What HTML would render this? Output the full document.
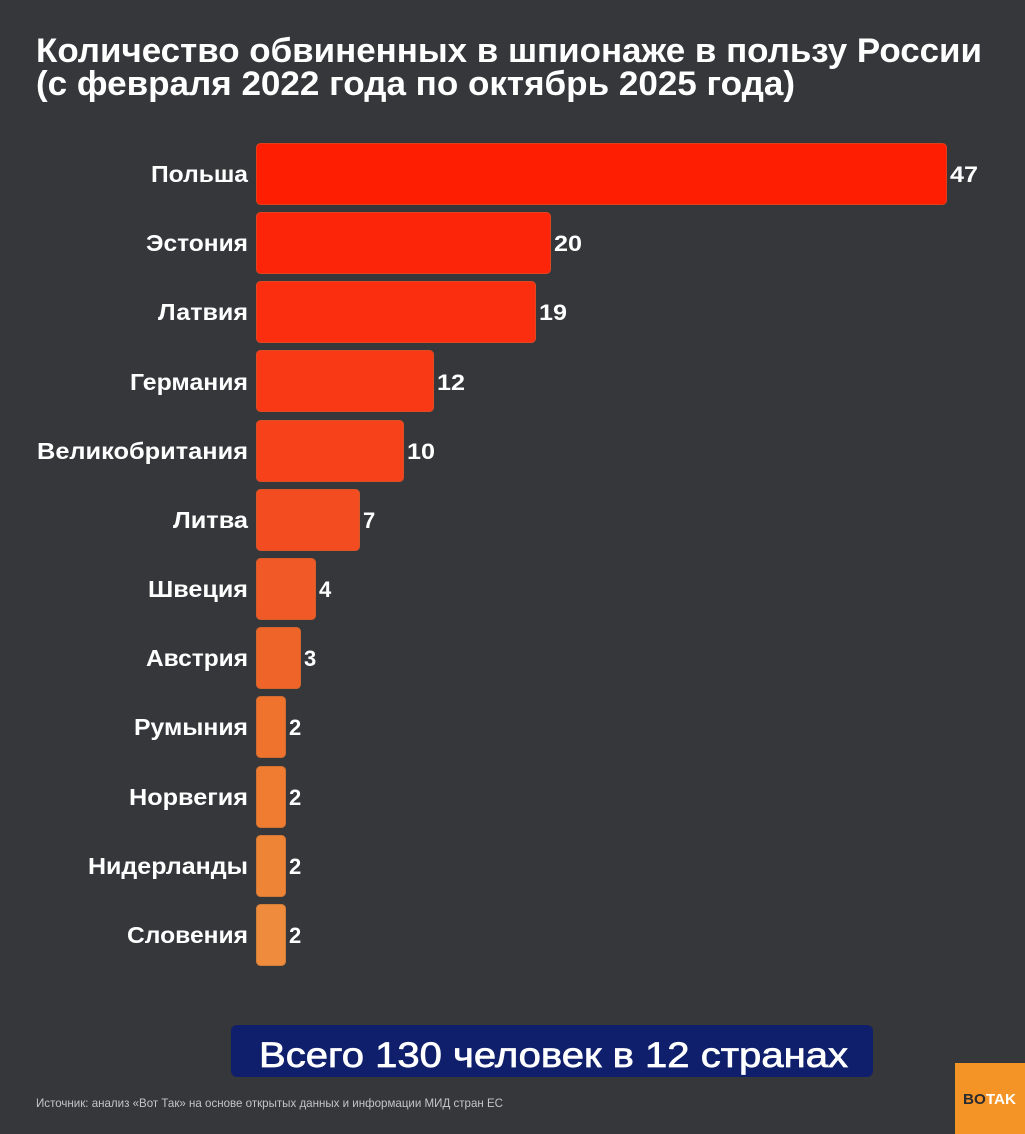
<!DOCTYPE html>
<html><head><meta charset="utf-8"><style>
html,body{margin:0;padding:0;background:#35373b;}
svg{display:block;}
</style></head><body>
<svg width="1025" height="1134" viewBox="0 0 1025 1134" xmlns="http://www.w3.org/2000/svg" font-family="Liberation Sans, DejaVu Sans, sans-serif">
<rect width="1025" height="1134" fill="#35373b"/>
<g fill="#ffffff" font-weight="bold" font-size="34">
<text x="36" y="62" textLength="946" lengthAdjust="spacingAndGlyphs">Количество обвиненных в шпионаже в пользу России</text>
<text x="36" y="95" textLength="759" lengthAdjust="spacingAndGlyphs">(с февраля 2022 года по октябрь 2025 года)</text>
</g>
<g stroke-width="1">
<rect x="256.5" y="143.5" width="690" height="61" rx="4" fill="#fe1e02" stroke="#e0401a"/>
<rect x="256.5" y="212.5" width="294" height="61" rx="4" fill="#fd2509" stroke="#e04420"/>
<rect x="256.5" y="281.5" width="279" height="61" rx="4" fill="#fc2e10" stroke="#e04822"/>
<rect x="256.5" y="350.5" width="177" height="61" rx="4" fill="#f93816" stroke="#dd4c24"/>
<rect x="256.5" y="420.5" width="147" height="61" rx="4" fill="#f6411b" stroke="#da5026"/>
<rect x="256.5" y="489.5" width="103" height="61" rx="4" fill="#f34c20" stroke="#d85628"/>
<rect x="256.5" y="558.5" width="59" height="61" rx="4" fill="#f15a26" stroke="#d65e2a"/>
<rect x="256.5" y="627.5" width="44" height="61" rx="4" fill="#ef6529" stroke="#d4662c"/>
<rect x="256.5" y="696.5" width="29" height="61" rx="4" fill="#ef732d" stroke="#d26c2e"/>
<rect x="256.5" y="766.5" width="29" height="61" rx="4" fill="#ef7c31" stroke="#d27230"/>
<rect x="256.5" y="835.5" width="29" height="61" rx="4" fill="#ee8436" stroke="#d27834"/>
<rect x="256.5" y="904.5" width="29" height="61" rx="4" fill="#ee8b3c" stroke="#d27e38"/>
</g>
<g fill="#ffffff" font-weight="bold" font-size="23" text-anchor="end">
<text x="248" y="182" textLength="97" lengthAdjust="spacingAndGlyphs">Польша</text>
<text x="248" y="251" textLength="102" lengthAdjust="spacingAndGlyphs">Эстония</text>
<text x="248" y="320" textLength="90" lengthAdjust="spacingAndGlyphs">Латвия</text>
<text x="248" y="390" textLength="118" lengthAdjust="spacingAndGlyphs">Германия</text>
<text x="248" y="459" textLength="211" lengthAdjust="spacingAndGlyphs">Великобритания</text>
<text x="248" y="528" textLength="75" lengthAdjust="spacingAndGlyphs">Литва</text>
<text x="248" y="597" textLength="100" lengthAdjust="spacingAndGlyphs">Швеция</text>
<text x="248" y="666" textLength="102" lengthAdjust="spacingAndGlyphs">Австрия</text>
<text x="248" y="735" textLength="114" lengthAdjust="spacingAndGlyphs">Румыния</text>
<text x="248" y="805" textLength="119" lengthAdjust="spacingAndGlyphs">Норвегия</text>
<text x="248" y="874" textLength="160" lengthAdjust="spacingAndGlyphs">Нидерланды</text>
<text x="248" y="943" textLength="121" lengthAdjust="spacingAndGlyphs">Словения</text>
</g>
<g fill="#ffffff" font-weight="bold" font-size="22">
<text x="950" y="182" textLength="28" lengthAdjust="spacingAndGlyphs">47</text>
<text x="554" y="251" textLength="28" lengthAdjust="spacingAndGlyphs">20</text>
<text x="539" y="320" textLength="28" lengthAdjust="spacingAndGlyphs">19</text>
<text x="437" y="390" textLength="28" lengthAdjust="spacingAndGlyphs">12</text>
<text x="407" y="459" textLength="28" lengthAdjust="spacingAndGlyphs">10</text>
<text x="363" y="528">7</text>
<text x="319" y="597">4</text>
<text x="304" y="666">3</text>
<text x="289" y="735">2</text>
<text x="289" y="805">2</text>
<text x="289" y="874">2</text>
<text x="289" y="943">2</text>
</g>
<rect x="231" y="1025" width="642" height="52" rx="6" fill="#0f1f6c"/>
<text x="259" y="1067" fill="#ffffff" stroke="#ffffff" stroke-width="0.7" font-size="35" textLength="589" lengthAdjust="spacingAndGlyphs">Всего 130 человек в 12 странах</text>
<text x="36" y="1107" fill="#c4c5c7" font-size="12" textLength="467" lengthAdjust="spacingAndGlyphs">Источник: анализ «Вот Так» на основе открытых данных и информации МИД стран ЕС</text>
<rect x="955" y="1063" width="70" height="71" fill="#f49426"/>
<text x="963" y="1104" font-size="15" font-weight="bold" textLength="53" lengthAdjust="spacingAndGlyphs"><tspan fill="#2a2b30">BO</tspan><tspan fill="#ffffff">TAK</tspan></text>
</svg>
</body></html>
